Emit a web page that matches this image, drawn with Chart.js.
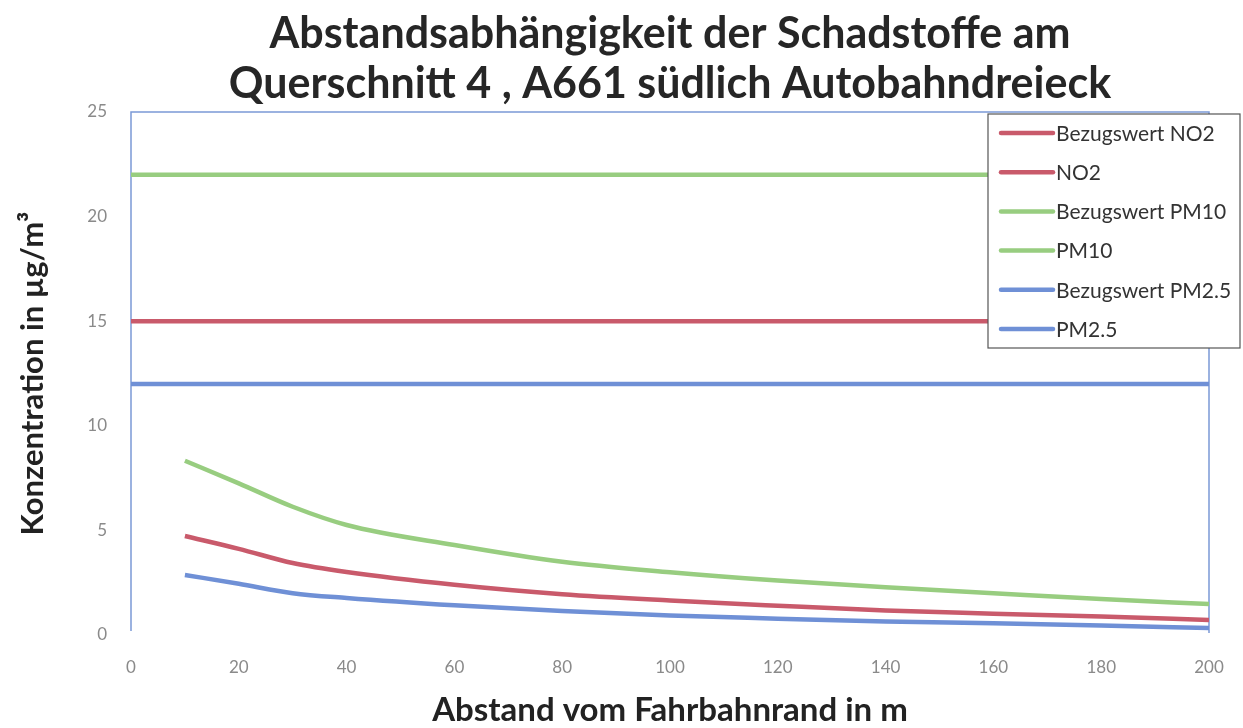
<!DOCTYPE html>
<html>
<head>
<meta charset="utf-8">
<script src="https://cdn.jsdelivr.net/npm/chart.js@4/dist/chart.umd.min.js"></script>
<style>
  html, body { margin: 0; padding: 0; background: #fff; }
  #wrap { width: 1243px; height: 728px; }
</style>
</head>
<body>
<div id="wrap"><canvas id="myChart" width="1243" height="728"></canvas></div>
<script>
// data block
const distances = [10, 20, 30, 40, 60, 80, 100, 120, 140, 160, 180, 200];
const no2 = [4.73, 4.12, 3.44, 3.01, 2.4, 1.95, 1.65, 1.4, 1.17, 1.02, 0.88, 0.72];
const pm10 = [8.33, 7.25, 6.13, 5.26, 4.3, 3.5, 3.0, 2.6, 2.28, 2.0, 1.72, 1.48];
const pm25 = [2.87, 2.45, 2.0, 1.77, 1.42, 1.15, 0.93, 0.78, 0.64, 0.56, 0.46, 0.33];

const refX = [0, 200];
const refNo2 = [15, 15];
const refPm10 = [22, 22];
const refPm25 = [12, 12];

const seriesLabels = ['Bezugswert NO2', 'NO2', 'Bezugswert PM10', 'PM10', 'Bezugswert PM2.5', 'PM2.5'];
const titleLines = ['Abstandsabhängigkeit der Schadstoffe am', 'Querschnitt 4 , A661 südlich Autobahndreieck'];

const RED = '#c95a6b';
const GREEN = '#98cd80';
const BLUE = '#6f90d6';

const pts = (xs, ys) => xs.map((x, i) => ({ x: x, y: ys[i] }));

const mkSet = (label, data, color, tension) => ({
    label,
    data,
    borderColor: color,
    backgroundColor: color,
    borderWidth: 4.5,
    pointRadius: 0,
    tension: tension,
    cubicInterpolationMode: 'monotone',
    fill: false
});

const data = {
    datasets: [
        mkSet(seriesLabels[0], pts(refX, refNo2), RED, 0),
        mkSet(seriesLabels[1], pts(distances, no2), RED, 0.4),
        mkSet(seriesLabels[2], pts(refX, refPm10), GREEN, 0),
        mkSet(seriesLabels[3], pts(distances, pm10), GREEN, 0.4),
        mkSet(seriesLabels[4], pts(refX, refPm25), BLUE, 0),
        mkSet(seriesLabels[5], pts(distances, pm25), BLUE, 0.4)
    ]
};

// title centred over the plot area
const titlePlugin = {
    id: 'plotTitle',
    afterDraw(chart) {
        const { ctx, chartArea: a } = chart;
        const cx = (a.left + a.right) / 2;
        ctx.save();
        ctx.fillStyle = '#262626';
        ctx.font = 'bold 43px Lato';
        ctx.textAlign = 'center';
        ctx.textBaseline = 'alphabetic';
        ctx.fillText(titleLines[0], cx, 48);
        ctx.fillText(titleLines[1], cx, 98);
        ctx.restore();
    }
};

// frame: left, top and right border in blue
const framePlugin = {
    id: 'frame',
    beforeDatasetsDraw(chart) {
        const { ctx, chartArea: a } = chart;
        ctx.save();
        ctx.strokeStyle = '#7b99d6';
        ctx.lineWidth = 1.5;
        ctx.beginPath();
        ctx.moveTo(a.left, a.bottom - 4);
        ctx.lineTo(a.left, a.top);
        ctx.lineTo(a.right, a.top);
        ctx.lineTo(a.right, a.bottom - 2);
        ctx.stroke();
        ctx.restore();
    }
};

// legend box drawn inside the plot, top right
const boxLegend = {
    id: 'boxLegend',
    afterDraw(chart) {
        const { ctx, chartArea: a } = chart;
        const x0 = a.right - 221, y0 = a.top + 2, w = 252, h = 234;
        ctx.save();
        ctx.fillStyle = '#fff';
        ctx.fillRect(x0, y0, w, h);
        ctx.strokeStyle = '#555';
        ctx.lineWidth = 1.2;
        ctx.strokeRect(x0, y0, w, h);
        ctx.font = '21px Lato';
        ctx.textBaseline = 'middle';
        chart.data.datasets.forEach((ds, i) => {
            const y = y0 + 19 + i * 39.2;
            ctx.strokeStyle = ds.borderColor;
            ctx.lineWidth = 4.5;
            ctx.lineCap = 'round';
            ctx.beginPath();
            ctx.moveTo(x0 + 13, y);
            ctx.lineTo(x0 + 65, y);
            ctx.stroke();
            ctx.fillStyle = '#333';
            ctx.fillText(ds.label, x0 + 68, y + 1);
        });
        ctx.restore();
    }
};

// config block
const config = {
    type: 'line',
    data: data,
    options: {
        responsive: false,
        animation: false,
        layout: { padding: { left: 0, right: 34, top: 112, bottom: 0 } },
        scales: {
            x: {
                type: 'linear',
                min: 0,
                max: 200,
                grid: { display: false },
                border: { display: false },
                ticks: { stepSize: 20, color: '#8a8a8a', font: { family: 'Lato', size: 17 }, padding: 14 },
                title: {
                    display: true,
                    text: 'Abstand vom Fahrbahnrand in m',
                    color: '#222',
                    font: { family: 'Lato', size: 33, weight: 'bold', lineHeight: 1.05 },
                    padding: { top: 6, bottom: 0 }
                },
                afterFit: s => { s.height = 93; }
            },
            y: {
                min: 0,
                max: 25,
                grid: { display: false },
                border: { display: false },
                ticks: { stepSize: 5, color: '#8a8a8a', font: { family: 'Lato', size: 17 }, padding: 16 },
                title: {
                    display: true,
                    text: 'Konzentration in µg/m³',
                    color: '#222',
                    font: { family: 'Lato', size: 31, weight: 'bold' },
                    padding: { top: 14, bottom: 14 }
                },
                afterFit: s => { s.width = 131; }
            }
        },
        plugins: {
            legend: { display: false },
            tooltip: { enabled: false },
            title: { display: false }
        }
    },
    plugins: [framePlugin, boxLegend, titlePlugin]
};

// init render block
const myChart = new Chart(
    document.getElementById('myChart'),
    config
);
</script>
</body>
</html>
